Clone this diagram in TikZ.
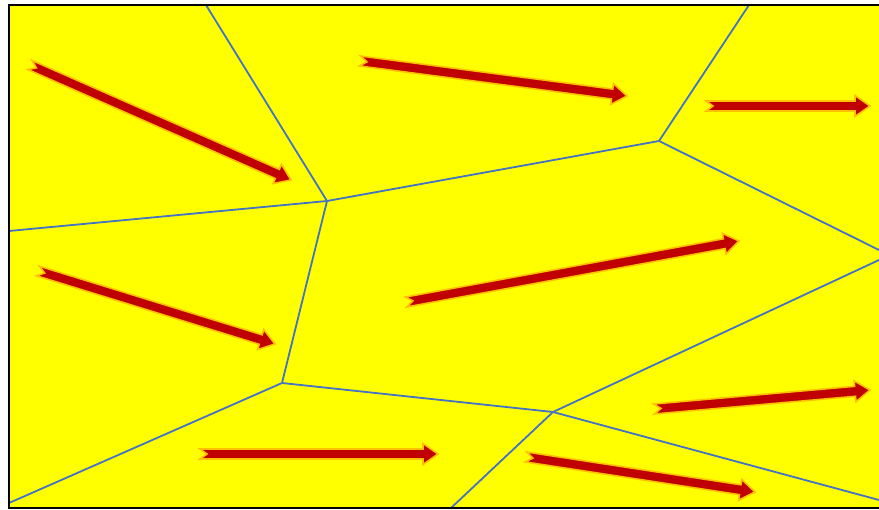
\documentclass[tikz,border=0pt]{standalone}
\usetikzlibrary{calc}
\definecolor{arrred}{HTML}{C00000}
\definecolor{arrglow}{HTML}{FFC000}
\definecolor{edgeblue}{HTML}{4472C4}
\definecolor{cellyellow}{HTML}{FFFF00}
\tikzset{
  cellfill/.style={fill=cellyellow},
  frame/.style={draw=black,line width=2pt},
  edge/.style={draw=edgeblue,line width=1.8pt},
  arrowbody/.style={fill=arrred,draw=arrglow,line width=1.6pt,line join=miter}
}
\newcommand\redarrow[2]{%
  \coordinate (h) at ($(#2)!15pt!(#1)$);
  \coordinate (n) at ($(#1)!7pt!(#2)$);
  \filldraw[arrowbody] ($(#1)!5pt!90:(#2)$) -- ($(h)!5pt!-90:(#1)$) -- ($(h)!10.5pt!-90:(#1)$)
    -- (#2) -- ($(h)!10.5pt!90:(#1)$) -- ($(h)!5pt!90:(#1)$) -- ($(#1)!5pt!-90:(#2)$) -- (n) -- cycle;}
\begin{document}
\begin{tikzpicture}[x=1pt,y=-1pt]
\useasboundingbox (0,0) rectangle (879,510);
\begin{scope}
\clip (0,0) rectangle (879,510);
\fill[cellfill] (9,5) rectangle (900,508);
% Voronoi vertices
\coordinate (v1) at (327,201);
\coordinate (v2) at (659,141);
\coordinate (v3) at (282,383);
\coordinate (v4) at (553,412);
\coordinate (t1) at (206,5);
\coordinate (t2) at (749,5);
\coordinate (l1) at (9,231);
\coordinate (l2) at (9,503);
\coordinate (r1) at (879,250);
\coordinate (r2) at (879,260);
\coordinate (r3) at (879,500);
\coordinate (b1) at (451,508);
\draw[edge] (t1) -- (v1) -- (l1);
\draw[edge] (v1) -- (v2) -- (t2);
\draw[edge] (v2) -- (r1);
\draw[edge] (v1) -- (v3) -- (l2);
\draw[edge] (v3) -- (v4) -- (r2);
\draw[edge] (b1) -- (v4) -- (r3);
% arrows
\coordinate (a1) at (30,65);   \coordinate (e1) at (291,180);
\coordinate (a2) at (360,61);  \coordinate (e2) at (627,96);
\coordinate (a3) at (706,106); \coordinate (e3) at (870,106);
\coordinate (a4) at (38,271);  \coordinate (e4) at (275,344);
\coordinate (a5) at (406,302); \coordinate (e5) at (739,241);
\coordinate (a6) at (200,454); \coordinate (e6) at (438,454);
\coordinate (a7) at (526,457); \coordinate (e7) at (755,492);
\coordinate (a8) at (654,409); \coordinate (e8) at (870,390);
\redarrow{a1}{e1}
\redarrow{a2}{e2}
\redarrow{a3}{e3}
\redarrow{a4}{e4}
\redarrow{a5}{e5}
\redarrow{a6}{e6}
\redarrow{a7}{e7}
\redarrow{a8}{e8}
\draw[frame] (900,5) -- (9,5) -- (9,508) -- (900,508);
\end{scope}
\end{tikzpicture}
\end{document}
